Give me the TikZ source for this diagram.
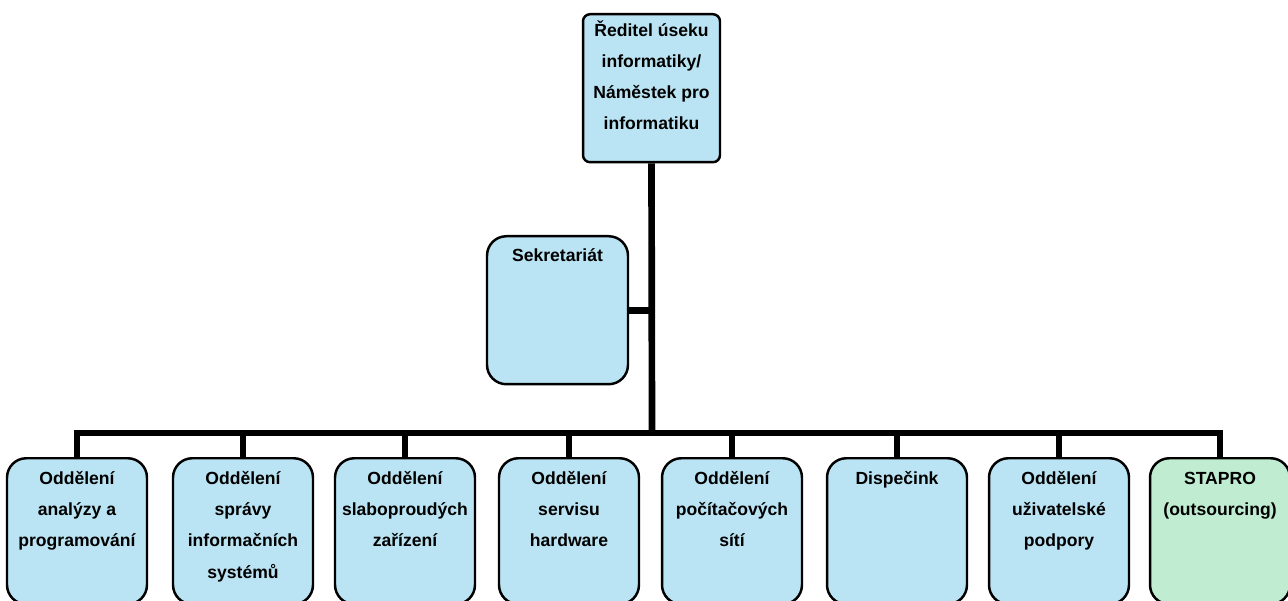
\documentclass[tikz,border=0pt]{standalone}
\usepackage{fontspec}
\setmainfont{Liberation Sans}
\usetikzlibrary{positioning}

\definecolor{unitblue}{RGB}{186,228,243}
\definecolor{unitgreen}{RGB}{192,236,210}

% text of a box: height, width, space above, lines
\newcommand{\unittext}[4]{%
  \begin{minipage}[t][#1][t]{#2}\centering\fontsize{10}{17.8}\selectfont\bfseries
  \vspace*{#3}\strut#4\end{minipage}}

\tikzset{
  unit/.style={draw=black, line width=1.4pt, fill=unitblue, inner sep=0pt, anchor=north, rounded corners=11pt},
  conn/.style={draw=black, line width=3.8pt},
}

\begin{document}
\begin{tikzpicture}[x=0.02cm, y=-0.02cm]
        \useasboundingbox (0,0) rectangle (1288,601);

        % Director
        \node[unit, rounded corners=4pt] (dir) at (651.5,13)
            {\unittext{2.96cm}{2.74cm}{0pt}{Ředitel úseku\\informatiky/\\Náměstek pro\\informatiku}};

        % Secretary
        \node[unit] (sek) at (557.5,235)
            {\unittext{2.96cm}{2.82cm}{1.7pt}{Sekretariát}};

        % Departments
        \node[unit] (d1) at (77,457)
            {\unittext{2.92cm}{2.8cm}{2.4pt}{Oddělení\\analýzy a\\programování}};
        \node[unit] (d2) at (243,457)
            {\unittext{2.92cm}{2.8cm}{2.4pt}{Oddělení\\správy\\informačních\\systémů}};
        \node[unit] (d3) at (405,457)
            {\unittext{2.92cm}{2.8cm}{2.4pt}{Oddělení\\slaboproudých\\zařízení}};
        \node[unit] (d4) at (569,457)
            {\unittext{2.92cm}{2.8cm}{2.4pt}{Oddělení\\servisu\\hardware}};
        \node[unit] (d5) at (732,457)
            {\unittext{2.92cm}{2.8cm}{2.4pt}{Oddělení\\počítačových\\sítí}};
        \node[unit] (d6) at (897,457)
            {\unittext{2.92cm}{2.8cm}{2.4pt}{Dispečink}};
        \node[unit] (d7) at (1059,457)
            {\unittext{2.92cm}{2.8cm}{2.4pt}{Oddělení\\uživatelské\\podpory}};
        \node[unit, fill=unitgreen] (d8) at (1220,457)
            {\unittext{2.92cm}{2.8cm}{2.4pt}{STAPRO\\(outsourcing)}};

        % Trunk and bus
        \coordinate (bus) at (652,433);
        \draw[conn] (dir.south) -- (bus);
        \draw[conn] (sek.east) -- (sek.east -| bus);
        \draw[conn] (bus) -| (d1.north);
        \draw[conn] (bus) -| (d2.north);
        \draw[conn] (bus) -| (d3.north);
        \draw[conn] (bus) -| (d4.north);
        \draw[conn] (bus) -| (d5.north);
        \draw[conn] (bus) -| (d6.north);
        \draw[conn] (bus) -| (d7.north);
        \draw[conn] (bus) -| (d8.north);
    \end{tikzpicture}
\end{document}
